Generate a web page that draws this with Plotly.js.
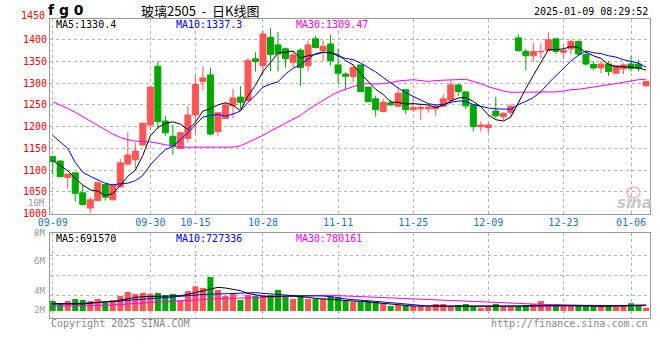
<!DOCTYPE html>
<html><head><meta charset="utf-8">
<script src="https://cdn.plot.ly/plotly-3.0.1.min.js"></script>
<style>html,body{margin:0;padding:0;background:#fff}#chart{width:660px;height:360px}</style>
</head><body><div id="chart"></div>
<script>
const dates = ["2024-09-09","2024-09-10","2024-09-11","2024-09-12","2024-09-13","2024-09-18","2024-09-19","2024-09-20",
"2024-09-23","2024-09-24","2024-09-25","2024-09-26","2024-09-27","2024-09-30",
"2024-10-08","2024-10-09","2024-10-10","2024-10-11","2024-10-14","2024-10-15","2024-10-16","2024-10-17","2024-10-18",
"2024-10-21","2024-10-22","2024-10-23","2024-10-24","2024-10-25","2024-10-28","2024-10-29","2024-10-30","2024-10-31","2024-11-01",
"2024-11-04","2024-11-05","2024-11-06","2024-11-07","2024-11-08","2024-11-11","2024-11-12","2024-11-13","2024-11-14","2024-11-15",
"2024-11-18","2024-11-19","2024-11-20","2024-11-21","2024-11-22","2024-11-25","2024-11-26","2024-11-27","2024-11-28","2024-11-29",
"2024-12-02","2024-12-03","2024-12-04","2024-12-05","2024-12-06","2024-12-09","2024-12-10","2024-12-11","2024-12-12","2024-12-13",
"2024-12-16","2024-12-17","2024-12-18","2024-12-19","2024-12-20","2024-12-23","2024-12-24","2024-12-25","2024-12-26","2024-12-27",
"2024-12-30","2024-12-31","2025-01-02","2025-01-03","2025-01-06","2025-01-07","2025-01-08"];

const open = [1131,1121,1083,1094,1048,1013,1030,1067,1032,1062,
1114,1124,1158,1204,1339,1213,1178,1150,1173,1227,
1304,1319,1189,1219,1248,1268,1260,1356,1340,1405,
1388,1379,1348,1376,1340,1402,1375,1390,1342,1321,
1315,1342,1291,1264,1235,1255,1247,1285,1239,1241,
1241,1241,1247,1261,1296,1280,1250,1200,1198,1236,
1223,1233,1404,1373,1363,1372,1375,1402,1371,1379,
1396,1366,1343,1335,1344,1323,1333,1344,1344,1294];
const high = [1132,1123,1092,1094,1066,1039,1076,1069,1069,1126,
1187,1164,1210,1292,1350,1225,1204,1187,1248,1319,
1339,1336,1233,1256,1287,1293,1358,1371,1421,1426,
1418,1382,1375,1380,1398,1409,1398,1412,1380,1325,
1344,1342,1291,1271,1264,1262,1289,1287,1269,1252,
1252,1250,1275,1306,1296,1281,1251,1212,1210,1269,
1233,1252,1412,1379,1392,1392,1417,1402,1388,1400,
1398,1372,1350,1352,1350,1342,1346,1362,1354,1306];
const low = [1091,1085,1057,1028,1019,1002,1029,1030,1030,1060,
1111,1104,1156,1193,1195,1179,1135,1150,1163,1183,
1283,1180,1179,1218,1219,1241,1258,1327,1321,1327,
1327,1336,1336,1293,1327,1380,1350,1340,1298,1283,
1302,1279,1256,1223,1233,1248,1245,1229,1235,1216,
1232,1225,1245,1252,1271,1241,1189,1189,1186,1219,
1215,1225,1372,1329,1350,1357,1374,1367,1356,1366,
1362,1340,1331,1323,1317,1321,1321,1327,1327,1291];
const close = [1120,1085,1091,1047,1021,1032,1071,1038,1067,1117,
1135,1144,1208,1291,1212,1186,1156,1186,1227,1297,
1312,1183,1232,1250,1266,1256,1352,1350,1413,1366,
1367,1357,1365,1336,1388,1382,1385,1352,1323,1316,
1336,1281,1258,1239,1256,1250,1277,1239,1244,1244,
1245,1247,1264,1296,1281,1248,1200,1204,1204,1225,
1231,1247,1375,1363,1373,1373,1400,1373,1375,1396,
1367,1344,1335,1344,1327,1340,1342,1334,1334,1304];

const ma5 = [1122,1110,1099,1081,1066,1055,1052,1042,1046,1065,
1086,1100,1134,1179,1198,1208,1211,1206,1193,1210,
1236,1241,1250,1255,1249,1237,1271,1295,1327,1347,
1370,1371,1374,1358,1363,1366,1371,1369,1366,1352,
1342,1322,1303,1286,1274,1257,1256,1252,1253,1251,
1250,1244,1249,1259,1266,1267,1258,1246,1227,1216,
1213,1222,1256,1288,1318,1346,1377,1377,1379,1384,
1382,1371,1363,1357,1343,1338,1338,1337,1335,1330];
const ma10 = [1180,1165,1150,1118,1095,1086,1078,1070,1066,1069,
1070,1076,1088,1112,1131,1147,1155,1170,1186,1204,
1222,1226,1228,1224,1229,1236,1256,1272,1291,1298,
1303,1321,1334,1343,1355,1368,1371,1371,1362,1357,
1354,1346,1336,1326,1313,1300,1289,1278,1270,1262,
1253,1250,1251,1256,1259,1258,1251,1247,1243,1241,
1240,1240,1251,1258,1267,1280,1300,1316,1334,1351,
1364,1374,1370,1368,1363,1360,1354,1350,1346,1337];
const ma30 = [1257,1250,1242,1233,1223,1213,1203,1192,1183,1175,
1170,1167,1166,1165,1162,1158,1155,1153,1153,1153,
1153,1153,1153,1153,1153,1156,1164,1171,1180,1190,
1199,1208,1217,1226,1239,1250,1261,1271,1280,1286,
1293,1298,1299,1298,1299,1301,1305,1307,1308,1306,
1304,1306,1307,1308,1309,1309,1304,1299,1292,1287,
1282,1279,1279,1280,1280,1279,1280,1280,1282,1285,
1286,1288,1291,1294,1296,1299,1302,1305,1308,1309];

const volume = [1264000,969000,1264000,1517000,1390000,1264000,1517000,1095000,1390000,1896000,
2402000,2149000,2275000,2191000,2275000,1980000,2149000,1390000,2528000,3118000,
2907000,4298000,2654000,1896000,2275000,1390000,2064000,1896000,2022000,2022000,
2654000,1896000,1517000,1896000,1517000,1517000,1517000,1896000,1812000,1264000,
1180000,1180000,1264000,1180000,969000,632000,758000,758000,632000,632000,
548000,885000,885000,548000,758000,885000,632000,421000,548000,885000,
548000,548000,632000,758000,885000,1264000,885000,632000,632000,632000,
632000,632000,632000,632000,758000,548000,758000,969000,758000,421000];
const vma5 = [927000,885000,885000,885000,885000,1011000,1138000,1180000,1180000,1348000,
1601000,1727000,1812000,1854000,1896000,1896000,1896000,1938000,2107000,2317000,
2570000,2823000,2991000,2907000,2739000,2570000,2233000,2022000,1854000,1812000,
1896000,1896000,1896000,1854000,1727000,1601000,1517000,1517000,1433000,1348000,
1264000,1222000,1138000,1095000,1011000,885000,801000,674000,632000,632000,
632000,590000,548000,548000,548000,548000,548000,548000,548000,548000,
548000,548000,590000,632000,674000,716000,716000,716000,716000,716000,
674000,632000,632000,590000,590000,632000,632000,674000,674000,692000];
const vma10 = [885000,885000,927000,927000,969000,1011000,1053000,1138000,1180000,1264000,
1348000,1433000,1517000,1601000,1685000,1727000,1812000,1854000,1938000,2022000,
2107000,2149000,2149000,2191000,2233000,2275000,2359000,2317000,2233000,2191000,
2107000,2022000,1938000,1938000,1938000,1938000,1896000,1812000,1643000,1517000,
1433000,1390000,1306000,1222000,1138000,1053000,969000,843000,758000,674000,
632000,632000,590000,590000,590000,590000,590000,590000,590000,590000,
590000,590000,590000,632000,632000,632000,674000,674000,674000,674000,
674000,674000,674000,674000,674000,674000,674000,716000,716000,727000];
const vma30 = [632000,632000,632000,674000,674000,674000,716000,716000,758000,801000,
843000,927000,1011000,1095000,1138000,1180000,1222000,1222000,1264000,1348000,
1433000,1517000,1601000,1601000,1601000,1601000,1643000,1685000,1727000,1770000,
1812000,1812000,1854000,1896000,1896000,1938000,1980000,1980000,1938000,1896000,
1854000,1812000,1770000,1770000,1727000,1685000,1643000,1559000,1475000,1433000,
1390000,1390000,1348000,1306000,1264000,1222000,1180000,1138000,1095000,1053000,
969000,927000,885000,885000,843000,843000,801000,801000,758000,758000,
758000,716000,716000,674000,674000,674000,674000,716000,758000,780000];

const tickDates = ["2024-09-09","2024-09-30","2024-10-15","2024-10-28","2024-11-11","2024-11-25","2024-12-09","2024-12-23","2025-01-06"];
const tickText = ["09-09","09-30","10-15","10-28","11-11","11-25","12-09","12-23","01-06"];
const priceTicks = [1000,1050,1100,1150,1200,1250,1300,1350,1400];

const RED = '#ff5555', GREEN = '#00a800';
const MONO = 'DejaVu Sans Mono';
const W = 660, H = 360;
const px = v => v / W, py = v => 1 - v / H;
const idx = dates.map((d, i) => i);
const tickVals = tickDates.map(d => dates.indexOf(d));
const volColors = close.map((c, i) => c >= open[i] ? RED : GREEN);

const volPerPx = 126400;   // volume-panel scale
const volBasePx = 311, volTopPx = 233.3, volBotPx = 318.3;
const volGridPx = [295.7, 275.7, 255];

const traces = [
  {type: 'candlestick', x: idx, open: open, high: high, low: low, close: close,
   xaxis: 'x', yaxis: 'y', whiskerwidth: 0, hoverinfo: 'skip',
   increasing: {line: {color: RED, width: 1}, fillcolor: RED},
   decreasing: {line: {color: GREEN, width: 1}, fillcolor: GREEN}},
  {type: 'scatter', mode: 'lines', x: idx, y: ma30, xaxis: 'x', yaxis: 'y', line: {color: '#ff00ff', width: 1}, hoverinfo: 'skip'},
  {type: 'scatter', mode: 'lines', x: idx, y: ma10, xaxis: 'x', yaxis: 'y', line: {color: '#0000ff', width: 1}, hoverinfo: 'skip'},
  {type: 'scatter', mode: 'lines', x: idx, y: ma5, xaxis: 'x', yaxis: 'y', line: {color: '#000000', width: 1}, hoverinfo: 'skip'},
  {type: 'bar', x: idx, y: volume, xaxis: 'x2', yaxis: 'y2', marker: {color: volColors, line: {width: 0}}, width: 0.8, hoverinfo: 'skip'},
  {type: 'scatter', mode: 'lines', x: idx, y: vma30, xaxis: 'x2', yaxis: 'y2', line: {color: '#ff00ff', width: 1}, hoverinfo: 'skip'},
  {type: 'scatter', mode: 'lines', x: idx, y: vma10, xaxis: 'x2', yaxis: 'y2', line: {color: '#0000ff', width: 1}, hoverinfo: 'skip'},
  {type: 'scatter', mode: 'lines', x: idx, y: vma5, xaxis: 'x2', yaxis: 'y2', line: {color: '#000000', width: 1}, hoverinfo: 'skip'}
];

const gridStyle = {showgrid: true, gridcolor: '#b4b4b4', griddash: 'dot', gridwidth: 1,
  showline: true, mirror: true, linecolor: '#999999', linewidth: 1, zeroline: false, ticks: ''};

function ann(text, x, y, xanchor, color, size, extra) {
  return Object.assign({text: text, x: px(x), y: py(y), xref: 'paper', yref: 'paper',
    xanchor: xanchor, yanchor: 'middle', showarrow: false, borderpad: 0,
    font: {family: MONO, size: size || 10, color: color || '#000'}}, extra || {});
}

const NB = '\u00a0';
const annotations = [
  ann('f g 0', 47, 10, 'left', '#000', 14, {font: {family: 'DejaVu Sans', size: 14, color: '#000', weight: 'bold'}}),
  ann('玻璃2505' + NB + NB + '-' + NB + NB + '日K线图', 200, 10, 'center', '#000', 13, {font: {family: 'Noto Sans CJK SC', size: 13, color: '#000'}}),
  ann('2025-01-09 08:29:52', 649, 11.5, 'right', '#000', 10),
  ann('1450', 46, 16, 'right', '#ff0000', 10),
  ann('MA5:1330.4', 55, 24.5, 'left', '#000000', 10),
  ann('MA10:1337.3', 175, 24.5, 'left', '#0000ff', 10),
  ann('MA30:1309.47', 295, 24.5, 'left', '#ff00ff', 10),
  ann('10M', 46, 202.5, 'right', '#999999', 9),
  ann('8M', 46, 232.5, 'right', '#999999', 9),
  ann('6M', 46, 261, 'right', '#999999', 9),
  ann('4M', 46, 291, 'right', '#999999', 9),
  ann('2M', 46, 310, 'right', '#999999', 9),
  ann('MA5:691570', 55, 238.7, 'left', '#000000', 10),
  ann('MA10:727336', 175, 238.7, 'left', '#0000ff', 10),
  ann('MA30:780161', 295, 238.7, 'left', '#ff00ff', 10),
  ann('Copyright 2025 SINA.COM', 50, 323.5, 'left', '#888888', 10),
  ann('http://finance.sina.com.cn', 649, 323.5, 'right', '#888888', 10),
  ann('sina', 634, 203, 'center', '#cccccc', 15, {font: {family: 'DejaVu Sans', size: 15, color: '#c8c8c8', weight: 'bold', style: 'italic'}})
];

const shapes = [
  {type: 'circle', xref: 'paper', yref: 'paper', x0: px(627), x1: px(640), y0: py(198), y1: py(187),
   line: {color: '#f4b8b8', width: 1.5}, fillcolor: 'rgba(0,0,0,0)'}
];

const layout = {
  width: W, height: H, margin: {l: 0, r: 0, t: 0, b: 0},
  paper_bgcolor: '#ffffff', plot_bgcolor: '#ffffff', showlegend: false,
  boxgap: 0.2, boxgroupgap: 0, bargap: 0.2,
  xaxis: Object.assign({}, gridStyle, {domain: [px(50), px(650)], anchor: 'y', range: [-0.36, 79.53],
    rangeslider: {visible: false}, tickmode: 'array', tickvals: tickVals, ticktext: tickText,
    ticklabelstandoff: -1, tickfont: {family: MONO, size: 10, color: '#1874cd'}}),
  yaxis: Object.assign({}, gridStyle, {domain: [py(213.7), py(19)], anchor: 'x', range: [1000, 1447.5],
    tickmode: 'array', tickvals: priceTicks, tickfont: {family: MONO, size: 10, color: '#ff0000'}}),
  xaxis2: Object.assign({}, gridStyle, {domain: [px(50), px(650)], anchor: 'y2', matches: 'x',
    tickmode: 'array', tickvals: tickVals, showticklabels: false}),
  yaxis2: Object.assign({}, gridStyle, {domain: [py(volBotPx), py(volTopPx)], anchor: 'x2',
    range: [-(volBotPx - volBasePx) * volPerPx, (volBasePx - volTopPx) * volPerPx],
    tickmode: 'array', tickvals: volGridPx.map(p => (volBasePx - p) * volPerPx), showticklabels: false}),
  annotations: annotations,
  shapes: shapes
};

Plotly.newPlot('chart', traces, layout, {staticPlot: true, displayModeBar: false});
</script>
</body></html>
